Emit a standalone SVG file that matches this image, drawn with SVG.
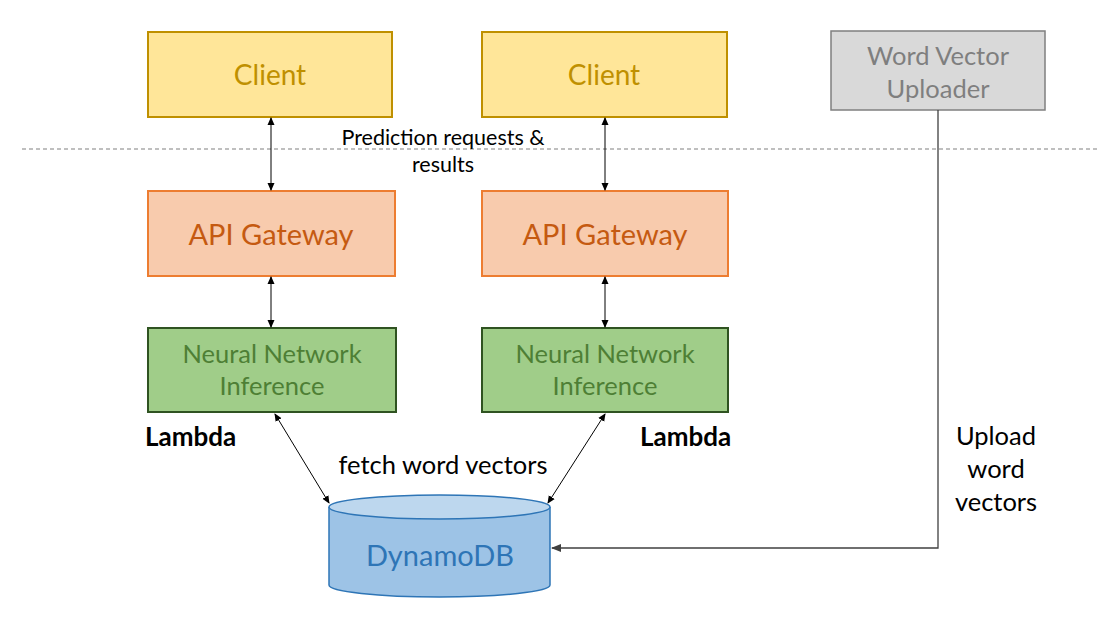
<svg xmlns="http://www.w3.org/2000/svg" width="1117" height="622" viewBox="0 0 1117 622">
<defs>
<marker id="ah" markerWidth="8" markerHeight="8" refX="7" refY="4" orient="auto-start-reverse" markerUnits="userSpaceOnUse">
<path d="M0,0.5 L8,4 L0,7.5 Z" fill="#000"/>
</marker>
<marker id="ahg" markerWidth="10" markerHeight="10" refX="9" refY="5" orient="auto-start-reverse" markerUnits="userSpaceOnUse">
<path d="M0,1 L10,5 L0,9 Z" fill="#404040"/>
</marker>
</defs>
<style>
text{font-family:Lato,"Liberation Sans",sans-serif;text-anchor:middle}
.client rect{fill:#FFE699;stroke:#BF9000;stroke-width:2}
.client text{fill:#BF9000;font-size:28px}
.api rect{fill:#F8CBAD;stroke:#ED7D31;stroke-width:2}
.api text{fill:#C55A11;font-size:29px}
.nn rect{fill:#A0CD89;stroke:#2F5321;stroke-width:2}
.nn text{fill:#4E7F35;font-size:25.5px}
.lbl{fill:#000}
.pred{font-size:21.5px}
.big{font-size:25.5px}
.bold{font-weight:bold;text-anchor:start;font-size:26px}
.conn line,.conn path{stroke:#000;stroke-width:1;fill:none}
</style>
<line x1="22" y1="149" x2="1100" y2="149" stroke="#808080" stroke-width="1.2" stroke-dasharray="4,3"/>
<g id="client1" class="client"><rect x="148" y="32" width="244" height="85"/><text x="270" y="85">Client</text></g>
<g id="client2" class="client"><rect x="482" y="32" width="245" height="85"/><text x="604" y="85">Client</text></g>
<g id="uploader"><rect x="831" y="31" width="214" height="79" fill="#D9D9D9" stroke="#7F7F7F" stroke-width="1.5"/><text x="938" y="65" fill="#7F7F7F" style="font-size:25.5px">Word Vector</text><text x="938" y="98" fill="#7F7F7F" style="font-size:25.5px">Uploader</text></g>
<g id="api1" class="api"><rect x="148" y="191" width="247" height="85"/><text x="271" y="245">API Gateway</text></g>
<g id="api2" class="api"><rect x="482" y="191" width="246" height="85"/><text x="605" y="245">API Gateway</text></g>
<g id="nn1" class="nn"><rect x="148" y="328" width="248" height="84"/><text x="272" y="363">Neural Network</text><text x="272" y="395">Inference</text></g>
<g id="nn2" class="nn"><rect x="482" y="328" width="246" height="84"/><text x="605" y="363">Neural Network</text><text x="605" y="395">Inference</text></g>
<g id="dynamo">
<path d="M329,507 L329,585 A110.5,12 0 0 0 550,585 L550,507" fill="#9DC3E6" stroke="#2E75B6" stroke-width="1.5"/>
<ellipse cx="439.5" cy="507" rx="110.5" ry="12" fill="#BDD7EE" stroke="#2E75B6" stroke-width="1.5"/>
<text x="440" y="566" fill="#2E75B6" style="font-size:29px">DynamoDB</text>
</g>
<g id="labels">
<text class="lbl pred" x="443" y="145">Prediction requests &amp;</text>
<text class="lbl pred" x="443" y="172">results</text>
<text class="lbl bold" x="145" y="446">Lambda</text>
<text class="lbl bold" x="640" y="446">Lambda</text>
<text class="lbl big" x="443" y="474">fetch word vectors</text>
<text class="lbl big" x="996" y="445">Upload</text>
<text class="lbl big" x="996" y="478">word</text>
<text class="lbl big" x="996" y="511">vectors</text>
</g>
<g id="connectors" class="conn">
<line x1="271" y1="118" x2="271" y2="190" marker-start="url(#ah)" marker-end="url(#ah)"/>
<line x1="605" y1="118" x2="605" y2="190" marker-start="url(#ah)" marker-end="url(#ah)"/>
<line x1="271" y1="277" x2="271" y2="327" marker-start="url(#ah)" marker-end="url(#ah)"/>
<line x1="605" y1="277" x2="605" y2="327" marker-start="url(#ah)" marker-end="url(#ah)"/>
<line x1="275" y1="414" x2="329" y2="503" marker-start="url(#ah)" marker-end="url(#ah)"/>
<line x1="605" y1="414" x2="548" y2="503" marker-start="url(#ah)" marker-end="url(#ah)"/>
<path d="M938,110 L938,548 L552,548" style="stroke:#404040;stroke-width:1.3" marker-end="url(#ahg)"/>
</g>
</svg>
